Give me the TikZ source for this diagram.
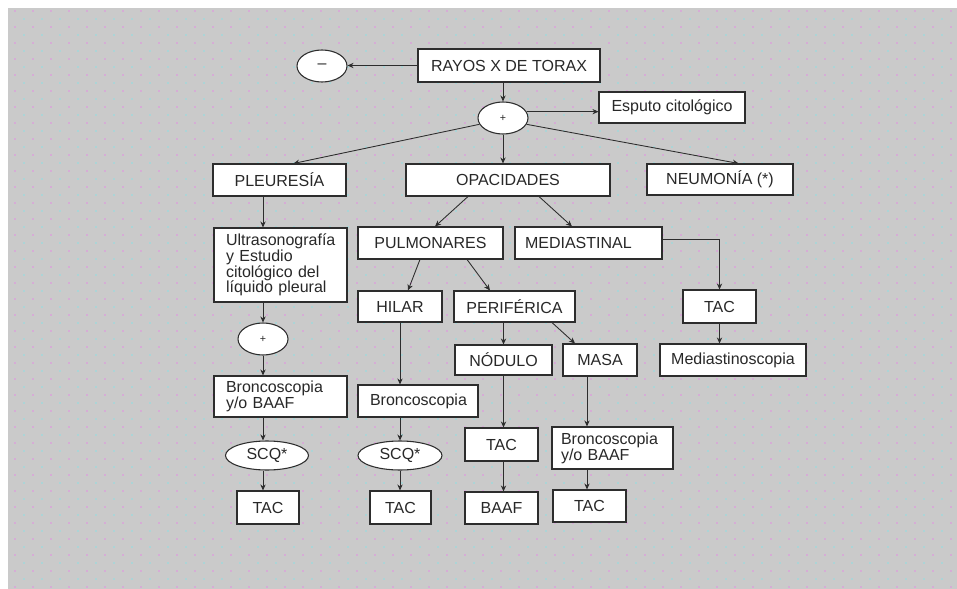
\documentclass[tikz,border=0pt]{standalone}
\usepackage{fontspec}
\setmainfont{Liberation Sans}
\usetikzlibrary{arrows.meta,shapes.geometric,calc}
\definecolor{bg}{RGB}{202,202,202}
\definecolor{ln}{RGB}{45,45,45}
\definecolor{txt}{RGB}{40,40,40}
\definecolor{dotp}{RGB}{214,172,214}
\definecolor{dotc}{RGB}{172,212,214}
\newcommand\nodefont{\fontsize{12}{11.8}\selectfont}
\begin{document}
\begin{tikzpicture}[x=0.75pt,y=-0.75pt,
  box/.style 2 args={draw=ln,fill=white,line width=0.8pt,minimum width=#1*0.75pt,minimum height=#2*0.75pt,inner sep=0pt,font=\nodefont,text=txt},
  ell/.style 2 args={ellipse,draw=ln,fill=white,line width=0.8pt,minimum width=#1*0.75pt,minimum height=#2*0.75pt,inner sep=0pt,font=\nodefont,text=txt},
  lefttext/.style={text width=#1*0.75pt,align=left},
  arr/.style={draw=ln,line width=0.65pt,-{Stealth[length=4.5pt,width=4pt]}}]
\useasboundingbox (0,0) rectangle (957,589);
\fill[white] (0,0) rectangle (957,589);
\fill[bg] (8,8) rectangle (957,589);
\foreach \i in {0,...,52} \foreach \j in {0,...,36} {\fill[dotp] (14+18*\i,10+16*\j) rectangle ++(2,2);}
\foreach \i in {0,...,51} \foreach \j in {0,...,35} {\fill[dotc] (23+18*\i,18+16*\j) rectangle ++(2,2);}

\node[box={182}{33}] (rayos) at (509,65.5) {RAYOS X DE TORAX};
\node[ell={50}{32}] (minus) at (322,66) {\textendash};
\node[ell={50}{32}] (plus) at (503,118) {\fontsize{8}{8}\selectfont +};
\node[box={146}{31}] (esputo) at (672,107.5) {Esputo citológico};
\node[box={133}{32}] (pleu) at (279.5,180) {PLEURESÍA};
\node[box={204}{32}] (opac) at (508,180) {OPACIDADES};
\node[box={146}{31}] (neum) at (720,179.5) {NEUMONÍA (*)};
\node[box={133}{74},lefttext={109}] (ultra) at (280.5,265) {Ultrasonografía\\y Estudio\\citológico del\\líquido pleural};
\node[box={145}{32}] (pulm) at (430.5,243) {PULMONARES};
\node[box={147}{32},lefttext={127}] (medi) at (588.5,243) {MEDIASTINAL};
\node[ell={50}{32}] (plus2) at (263,339) {\fontsize{8}{8}\selectfont +};
\node[box={84}{31}] (hilar) at (400,306.5) {HILAR};
\node[box={121}{31}] (peri) at (514.5,306.5) {PERIFÉRICA};
\node[box={73}{33}] (tacm) at (719.5,306.5) {TAC};
\node[box={97}{30}] (nod) at (503.5,360) {NÓDULO};
\node[box={74}{32}] (masa) at (600,360) {MASA};
\node[box={146}{32}] (medscop) at (733,360) {Mediastinoscopia};
\node[box={133}{41},lefttext={109}] (bronc1) at (280.5,396.5) {Broncoscopia\\y/o BAAF};
\node[box={120}{32},lefttext={96}] (bronc2) at (418,401) {Broncoscopia};
\node[ell={83}{29}] (scq1) at (267,455.5) {SCQ*};
\node[ell={84}{29}] (scq2) at (400,455.5) {SCQ*};
\node[box={62}{33}] (tac1) at (268,507.5) {TAC};
\node[box={61}{33}] (tac2) at (400.5,507.5) {TAC};
\node[box={73}{33}] (tac3) at (501.5,444.5) {TAC};
\node[box={73}{32}] (baaf) at (501.5,508) {BAAF};
\node[box={121}{42},lefttext={103}] (bronc3) at (612.5,448) {Broncoscopia\\y/o BAAF};
\node[box={73}{32}] (tac4) at (589.5,506) {TAC};

\draw[arr] (rayos.west) -- (rayos.west -| minus.east);
\draw[arr] (plus.north |- rayos.south) -- (plus.north);
\draw[arr] (plus.15) -- (plus.15 -| esputo.west);
\draw[arr] (plus.195) -- ([xshift=10.5pt]pleu.north);
\draw[arr] (plus.south) -- (plus.south |- opac.north);
\draw[arr] (plus.345) -- ([xshift=14pt]neum.north);
\draw[arr] (plus2.north |- pleu.south) -- (plus2.north |- ultra.north);
\draw[arr] (plus2.north |- ultra.south) -- (plus2.north);
\draw[arr] (plus2.south) -- (plus2.south |- bronc1.north);
\draw[arr] (plus2.south |- bronc1.south) -- (plus2.south |- scq1.north);
\draw[arr] (plus2.south |- scq1.south) -- (plus2.south |- tac1.north);
\draw[arr] ([xshift=-30pt]opac.south) -- ([xshift=3.4pt]pulm.north);
\draw[arr] ([xshift=23.25pt]opac.south) -- ([xshift=-12.4pt]medi.north);
\draw[arr] ([xshift=-7.9pt]pulm.south) -- ([xshift=6pt]hilar.north);
\draw[arr] ([xshift=27.4pt]pulm.south) -- ([xshift=-18.4pt]peri.north);
\draw[arr] (nod.north |- peri.south) -- (nod.north);
\draw[arr] ([xshift=28.1pt]peri.south) -- ([xshift=-18.75pt]masa.north);
\draw[arr] ([yshift=3pt]medi.east) -| (tacm.north);
\draw[arr] (tacm.south) -- (tacm.south |- medscop.north);
\draw[arr] (hilar.south) -- (hilar.south |- bronc2.north);
\draw[arr] (scq2.north |- bronc2.south) -- (scq2.north);
\draw[arr] (scq2.south) -- (scq2.south |- tac2.north);
\draw[arr] (nod.south) -- (nod.south |- tac3.north);
\draw[arr] (nod.south |- tac3.south) -- (nod.south |- baaf.north);
\coordinate (mx) at ([xshift=-9.75pt]masa.south);
\draw[arr] (mx) -- (mx |- bronc3.north);
\draw[arr] (mx |- bronc3.south) -- (mx |- tac4.north);
\end{tikzpicture}
\end{document}
